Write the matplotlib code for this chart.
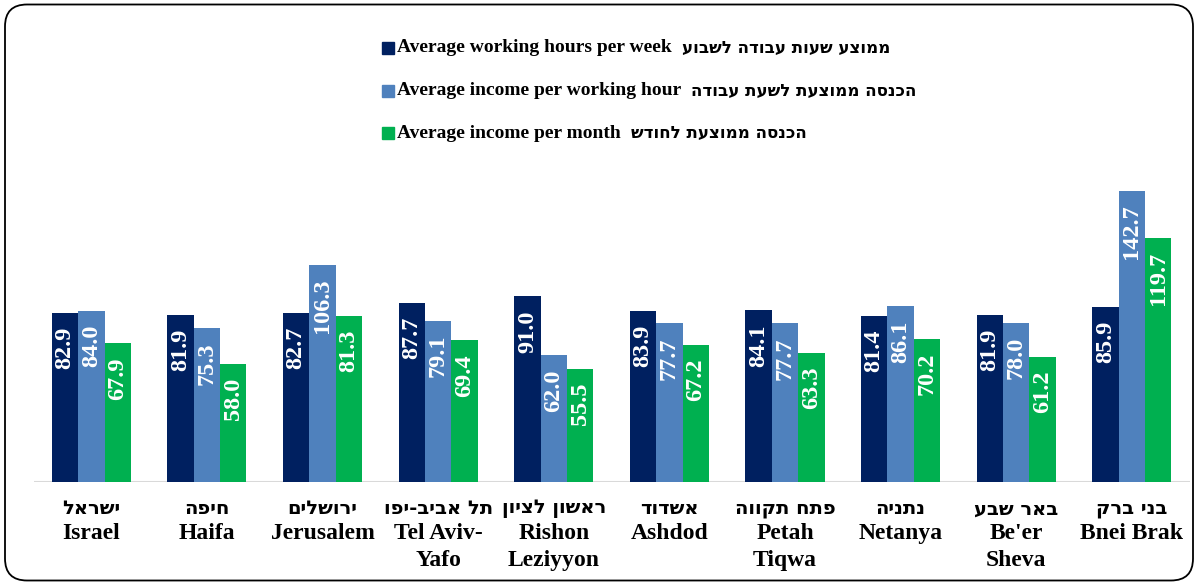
import numpy as np
import matplotlib
matplotlib.use('Agg')
import matplotlib.pyplot as plt
from matplotlib.patches import FancyBboxPatch

# data
cities_he = ['ישראל', 'חיפה', 'ירושלים', 'תל אביב-יפו', 'ראשון לציון',
             'אשדוד', 'פתח תקווה', 'נתניה', 'באר שבע', 'בני ברק']
cities_en = ['Israel', 'Haifa', 'Jerusalem', 'Tel Aviv-\nYafo', 'Rishon\nLeziyyon',
             'Ashdod', 'Petah\nTiqwa', 'Netanya', "Be'er\nSheva", 'Bnei Brak']
hours_week = [82.9, 81.9, 82.7, 87.7, 91.0, 83.9, 84.1, 81.4, 81.9, 85.9]
income_hour = [84.0, 75.3, 106.3, 79.1, 62.0, 77.7, 77.7, 86.1, 78.0, 142.7]
income_month = [67.9, 58.0, 81.3, 69.4, 55.5, 67.2, 63.3, 70.2, 61.2, 119.7]

series_en = ['Average working hours per week', 'Average income per working hour',
             'Average income per month']
series_he = ['ממוצע שעות עבודה לשבוע', 'הכנסה ממוצעת לשעת עבודה', 'הכנסה ממוצעת לחודש']
colors = ['#002060', '#4F81BD', '#00B050']

def heb(s):
    # matplotlib has no bidi support, so flip the hebrew for display
    return s[::-1]

serif = ['Liberation Serif', 'DejaVu Serif']
sans = ['DejaVu Sans']

fig = plt.figure(figsize=(11.98, 5.84), dpi=100)
ax = fig.add_axes([0.028, 0.1747, 0.965, 0.5766])

x = np.arange(len(cities_en))
w = 0.228
for k, vals in enumerate([hours_week, income_hour, income_month]):
    bars = ax.bar(x + (k - 1) * w, vals, w, color=colors[k], linewidth=0)
    for b, v in zip(bars, vals):
        ax.annotate(f'{v:.1f}', xy=(b.get_x() + b.get_width() / 2, v),
                    xytext=(0, -10), textcoords='offset points',
                    rotation=90, ha='center', va='top', color='white',
                    fontsize=17.5, fontweight='bold', family=serif)

ax.set_xlim(-0.5, len(cities_en) - 0.5)
ax.set_ylim(0, 165)
ax.axis('off')
ax.axhline(0, color='#D9D9D9', lw=2.2, zorder=0)

for i in range(len(cities_en)):
    ax.text(i, -0.08, heb(cities_he[i]), transform=ax.get_xaxis_transform(),
            ha='center', va='center', fontsize=14, fontweight='bold', family=sans)
    ax.text(i, -0.122, cities_en[i], transform=ax.get_xaxis_transform(),
            ha='center', va='top', fontsize=17, fontweight='bold', family=serif,
            linespacing=1.35)

# legend built by hand: english in serif, hebrew in sans
leg_y = [0.918, 0.845, 0.772]
for k in range(3):
    fig.patches.append(FancyBboxPatch((0.319, leg_y[k] - 0.0105), 0.0095, 0.0205,
                                      boxstyle='square,pad=0', color=colors[k],
                                      transform=fig.transFigure, figure=fig))
    t = fig.text(0.3315, leg_y[k], series_en[k], ha='left', va='center',
                 fontsize=14, fontweight='bold', family=serif)
    ax.annotate(heb(series_he[k]), xy=(1, 0.5), xycoords=t, xytext=(7, 0),
                textcoords='offset points', ha='left', va='center',
                fontsize=12, fontweight='bold', family=sans, annotation_clip=False)

frame = FancyBboxPatch((0.05, 0.035), 11.88, 5.76, boxstyle='round,pad=0,rounding_size=0.22',
                       transform=fig.dpi_scale_trans, fill=False, edgecolor='black', lw=1.3)
fig.patches.append(frame)

fig.savefig('out.png', dpi=100)
